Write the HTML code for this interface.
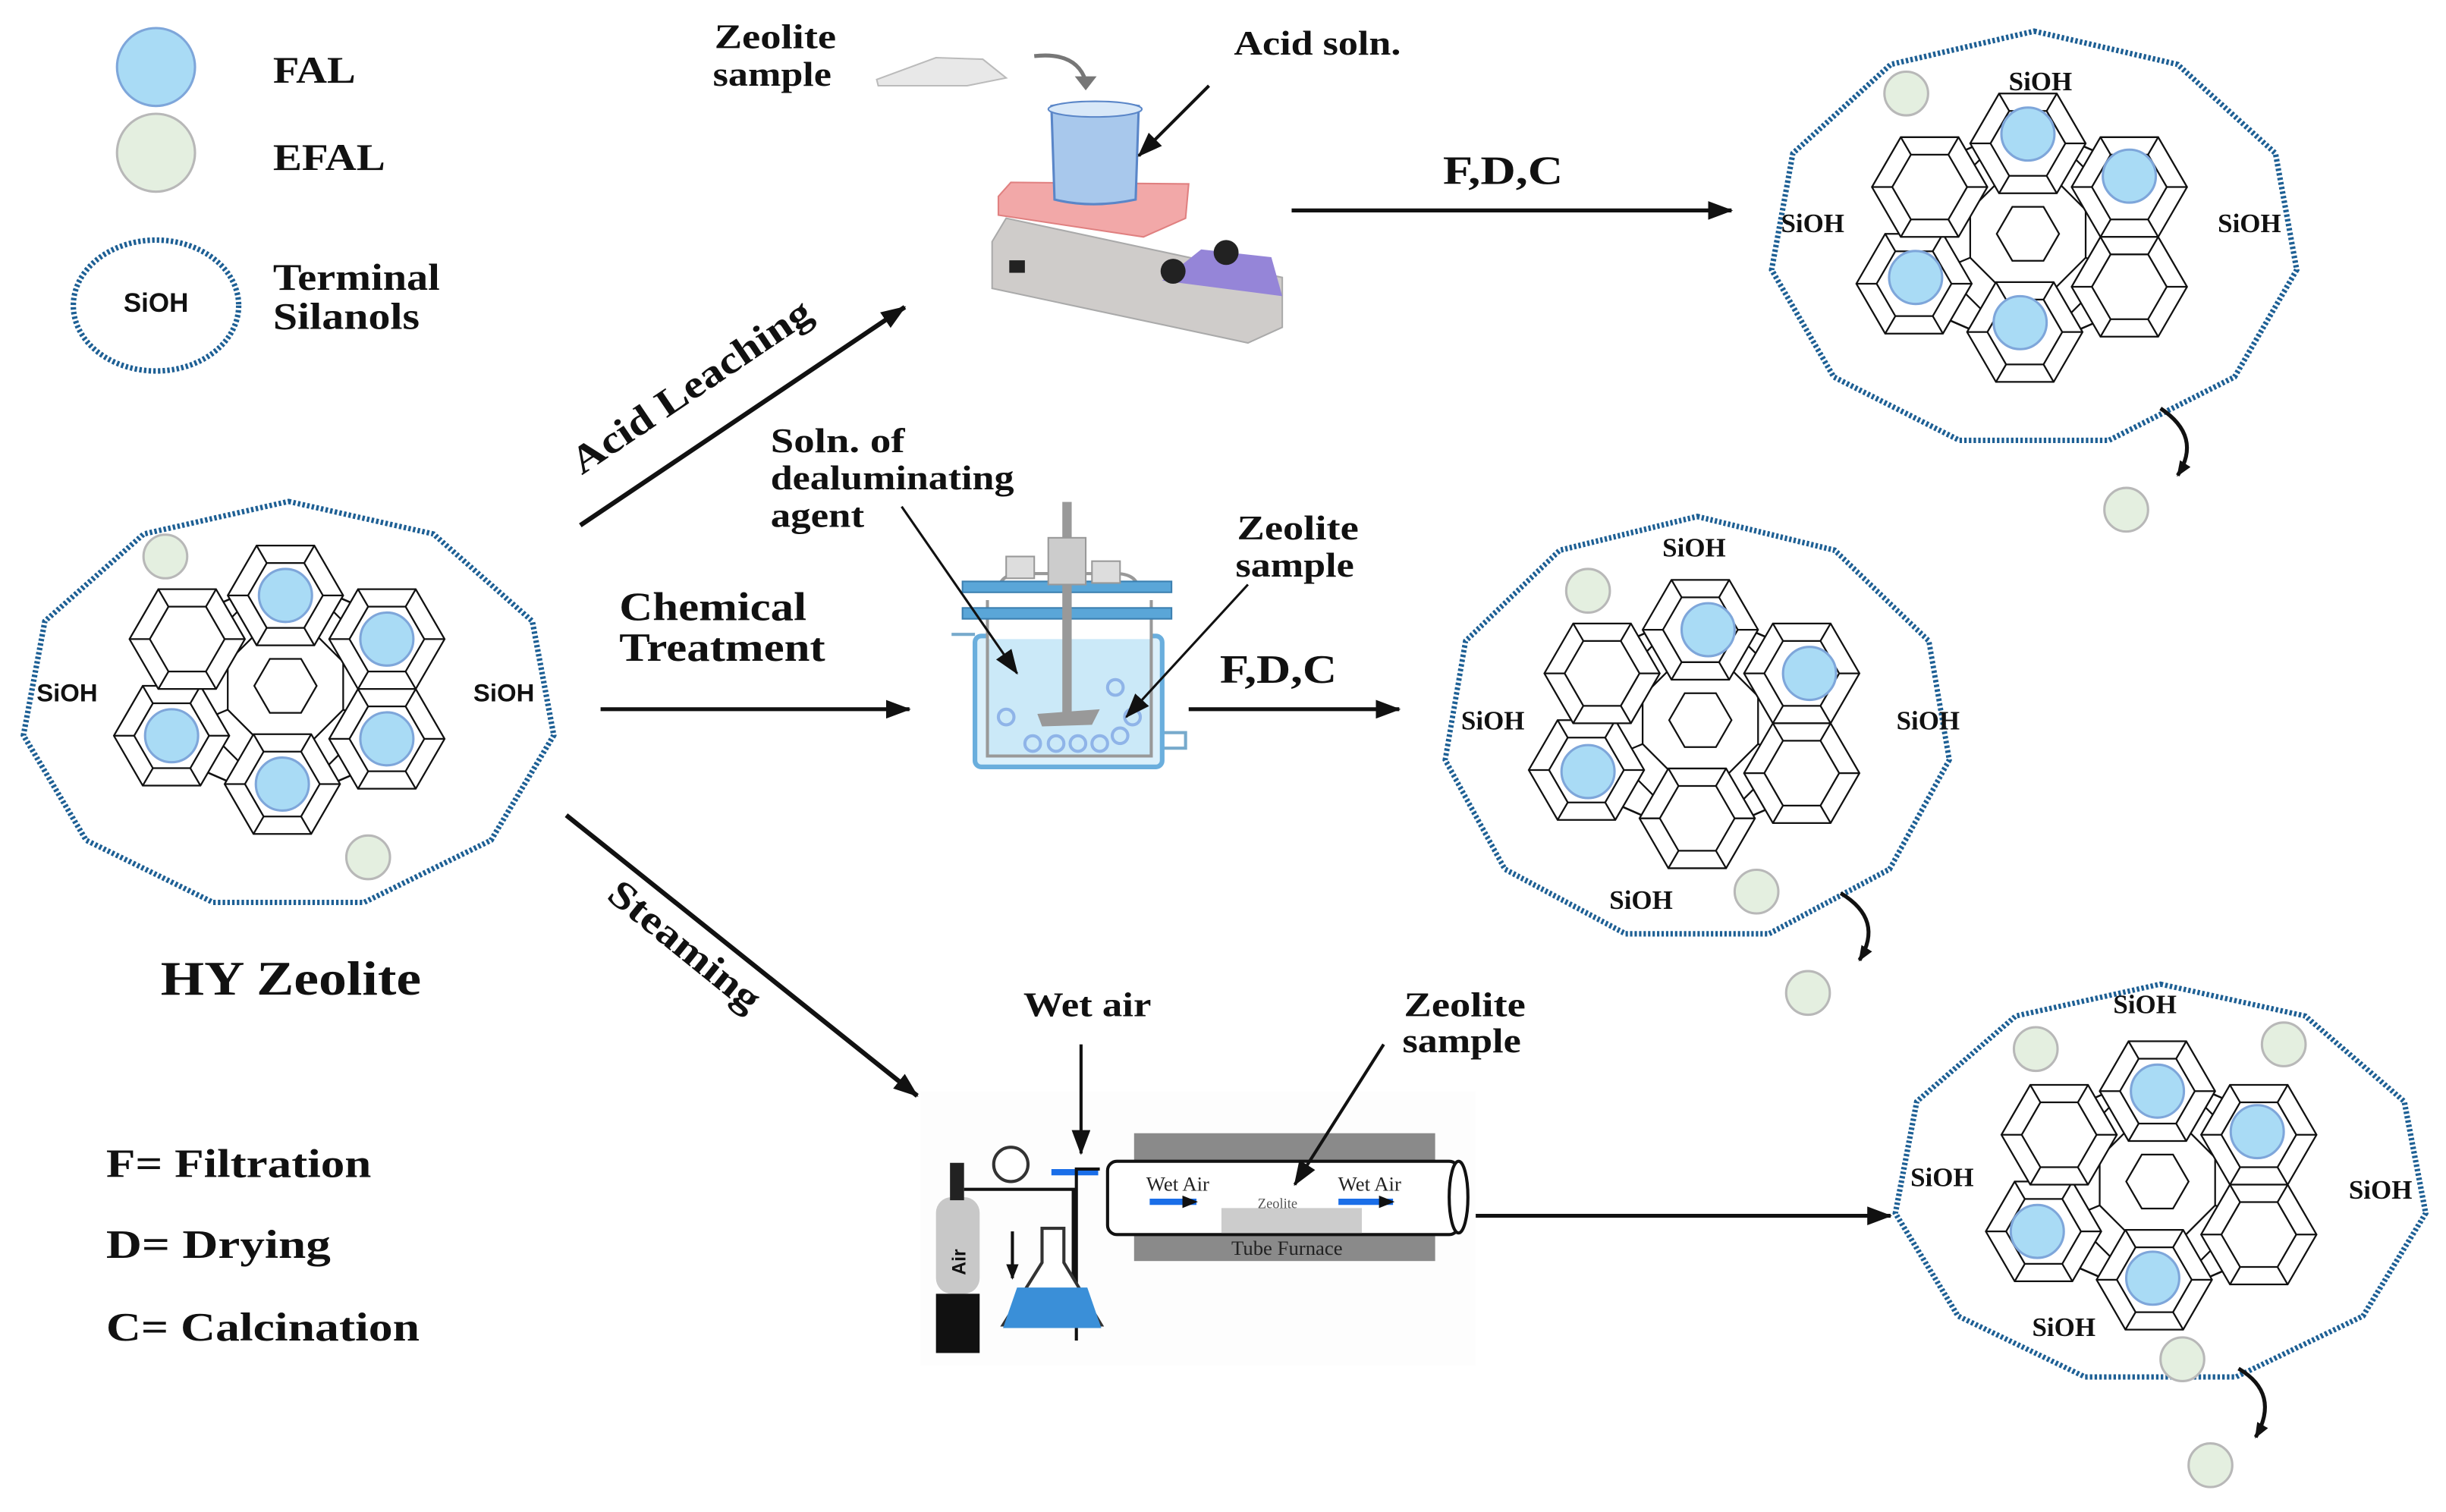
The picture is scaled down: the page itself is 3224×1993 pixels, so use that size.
<!DOCTYPE html>
<html><head><meta charset="utf-8"><style>
html,body{margin:0;padding:0;background:#fff}
svg{display:block}
.t{font-family:"Liberation Serif",serif;font-weight:bold;fill:#111}
.s{font-family:"Liberation Sans",sans-serif;font-weight:bold;fill:#111}
</style></head><body>
<svg width="3224" height="1993" viewBox="0 0 1568 970" preserveAspectRatio="none" xmlns="http://www.w3.org/2000/svg">
<defs>
<marker id="ah" markerWidth="10" markerHeight="8" refX="9" refY="4" orient="auto" markerUnits="userSpaceOnUse"><path d="M0,0 L10,4 L0,8 z" fill="#111"/></marker>
<marker id="ahb" markerWidth="16" markerHeight="12" refX="15" refY="6" orient="auto" markerUnits="userSpaceOnUse"><path d="M0,0 L16,6 L0,12 z" fill="#111"/></marker>
<polygon id="ring" points="0,-134 91.9,-112.7 154.7,-55.6 168.3,19.1 128.5,87.8 47.9,128.5 -47.9,128.5 -128.5,87.8 -168.3,19.1 -154.7,-55.6 -91.9,-112.7" fill="none" stroke="#1d5f94" stroke-width="3.5" stroke-dasharray="1.6 1.4"/>
<g id="hx">
<polygon points="37,0 18.5,32 -18.5,32 -37,0 -18.5,-32 18.5,-32" fill="#fff" stroke="#111" stroke-width="1.1"/>
<polygon points="24,0 12,20.8 -12,20.8 -24,0 -12,-20.8 12,-20.8" fill="none" stroke="#111" stroke-width="1.1"/>
<path d="M37,0L24,0M18.5,32L12,20.8M-18.5,32L-12,20.8M-37,0L-24,0M-18.5,-32L-12,-20.8M18.5,-32L12,-20.8" stroke="#111" stroke-width="1.1"/>
</g>
<g id="fw">
<g stroke="#111" stroke-width="26">
<path d="M0,-58L65,-30L65,34L-2,63L-73,32L-63,-30Z M0,0L0,-58M0,0L65,-30M0,0L65,34M0,0L-2,63M0,0L-73,32M0,0L-63,-30" fill="none"/>
</g>
<g stroke="#fff" stroke-width="23.5">
<path d="M0,-58L65,-30L65,34L-2,63L-73,32L-63,-30Z M0,0L0,-58M0,0L65,-30M0,0L65,34M0,0L-2,63M0,0L-73,32M0,0L-63,-30" fill="none"/>
</g>
<polygon points="55.4,23 23,55.4 -23,55.4 -55.4,23 -55.4,-23 -23,-55.4 23,-55.4 55.4,-23" fill="#fff" stroke="#111" stroke-width="1.1"/>
<polygon points="37,15.3 15.3,37 -15.3,37 -37,15.3 -37,-15.3 -15.3,-37 15.3,-37 37,-15.3" fill="none" stroke="#111" stroke-width="1.1"/>
<path d="M55.4,23L37,15.3M23,55.4L15.3,37M-23,55.4L-15.3,37M-55.4,23L-37,15.3M-55.4,-23L-37,-15.3M-23,-55.4L-15.3,-37M23,-55.4L15.3,-37M55.4,-23L37,-15.3" stroke="#111" stroke-width="1.1"/>
<polygon points="20,0 10,17.3 -10,17.3 -20,0 -10,-17.3 10,-17.3" fill="none" stroke="#111" stroke-width="1.1"/>
<use href="#hx" x="0" y="-58"/><use href="#hx" x="65" y="-30"/><use href="#hx" x="65" y="34"/>
<use href="#hx" x="-2" y="63"/><use href="#hx" x="-73" y="32"/><use href="#hx" x="-63" y="-30"/>
</g>
<circle id="fal" r="17" fill="#a9dbf5" stroke="#7ea6da" stroke-width="1.5"/>
<circle id="efal" r="14" fill="#e4efe0" stroke="#b8b8b8" stroke-width="1.5"/>
</defs>

<!-- Legend -->
<circle cx="100" cy="43" r="25" fill="#a9dbf5" stroke="#7ea6da" stroke-width="1.5"/>
<circle cx="100" cy="98" r="25" fill="#e4efe0" stroke="#b8b8b8" stroke-width="1.5"/>
<ellipse cx="100" cy="196" rx="53" ry="42" fill="none" stroke="#1d5f94" stroke-width="3.5" stroke-dasharray="1.6 1.4"/>
<text x="100" y="200" class="s" font-size="17" text-anchor="middle" font-weight="normal">SiOH</text>
<text x="175" y="53" class="t" font-size="24" textLength="53" lengthAdjust="spacingAndGlyphs">FAL</text>
<text x="175" y="109" class="t" font-size="24" textLength="72" lengthAdjust="spacingAndGlyphs">EFAL</text>
<text x="175" y="186" class="t" font-size="24" textLength="107" lengthAdjust="spacingAndGlyphs">Terminal</text>
<text x="175" y="211" class="t" font-size="24" textLength="94" lengthAdjust="spacingAndGlyphs">Silanols</text>

<!-- HY zeolite -->
<use href="#ring" transform="translate(185,453) scale(1.01,0.98)"/>
<use href="#fw" x="183" y="440"/>
<use href="#fal" x="183" y="382"/><use href="#fal" x="248" y="410"/><use href="#fal" x="110" y="472"/><use href="#fal" x="248" y="474"/><use href="#fal" x="181" y="503"/>
<use href="#efal" x="106" y="357"/><use href="#efal" x="236" y="550"/>
<text x="43" y="450" class="s" font-size="16" font-weight="normal" text-anchor="middle">SiOH</text>
<text x="323" y="450" class="s" font-size="16" font-weight="normal" text-anchor="middle">SiOH</text>
<text x="103" y="638" class="t" font-size="31" textLength="167" lengthAdjust="spacingAndGlyphs">HY Zeolite</text>

<text x="68" y="755" class="t" font-size="26" textLength="170" lengthAdjust="spacingAndGlyphs">F= Filtration</text>
<text x="68" y="807" class="t" font-size="26" textLength="144" lengthAdjust="spacingAndGlyphs">D= Drying</text>
<text x="68" y="860" class="t" font-size="26" textLength="201" lengthAdjust="spacingAndGlyphs">C= Calcination</text>

<!-- main arrows -->
<line x1="372" y1="337" x2="580" y2="197" stroke="#111" stroke-width="3" marker-end="url(#ahb)"/>
<text class="t" font-size="25" transform="translate(373,305) rotate(-34)" textLength="180" lengthAdjust="spacingAndGlyphs">Acid Leaching</text>
<line x1="385" y1="455" x2="583" y2="455" stroke="#111" stroke-width="2.5" marker-end="url(#ahb)"/>
<text x="397" y="398" class="t" font-size="26" textLength="120" lengthAdjust="spacingAndGlyphs">Chemical</text>
<text x="397" y="424" class="t" font-size="26" textLength="132" lengthAdjust="spacingAndGlyphs">Treatment</text>
<line x1="363" y1="523" x2="588" y2="703" stroke="#111" stroke-width="3" marker-end="url(#ahb)"/>
<text class="t" font-size="25" transform="translate(388,576) rotate(39)" textLength="118" lengthAdjust="spacingAndGlyphs">Steaming</text>

<!-- Acid leaching apparatus -->
<text x="458" y="31" class="t" font-size="22" textLength="78" lengthAdjust="spacingAndGlyphs">Zeolite</text>
<text x="457" y="55" class="t" font-size="22" textLength="76" lengthAdjust="spacingAndGlyphs">sample</text>
<polygon points="562,51 600,37 630,38 645,50 620,55 563,55" fill="#e8e8e8" stroke="#bbb"/>
<path d="M663,36 Q690,33 696,52" fill="none" stroke="#777" stroke-width="2.5"/>
<path d="M689,49 L703,49 L696,58 Z" fill="#777"/>
<text x="791" y="35" class="t" font-size="22" textLength="107" lengthAdjust="spacingAndGlyphs">Acid soln.</text>
<path d="M636,155 L645,140 L822,178 L822,210 L800,220 L636,185 Z" fill="#cfccca" stroke="#aaa"/>
<path d="M770,160 L815,165 L822,190 L745,180 Z" fill="#9585d8"/>
<circle cx="752" cy="174" r="8" fill="#222"/><circle cx="786" cy="162" r="8" fill="#222"/>
<rect x="647" y="167" width="10" height="8" fill="#222"/>
<polygon points="640,126 648,117 762,118 760,140 733,152 640,138" fill="#f2a8a8" stroke="#e08080"/>
<path d="M674,68 Q700,63 730,68 L728,128 Q700,134 676,128 Z" fill="#a8c8ec" stroke="#5a86c8" stroke-width="1.5"/>
<ellipse cx="702" cy="70" rx="30" ry="5" fill="#d8e8f8" stroke="#5a86c8"/>
<line x1="775" y1="55" x2="730" y2="100" stroke="#111" stroke-width="2" marker-end="url(#ahb)"/>

<!-- F,D,C top -->
<line x1="828" y1="135" x2="1110" y2="135" stroke="#111" stroke-width="2.5" marker-end="url(#ahb)"/>
<text x="925" y="118" class="t" font-size="26" textLength="77" lengthAdjust="spacingAndGlyphs">F,D,C</text>

<!-- top right zeolite -->
<use href="#ring" transform="translate(1304,154) scale(1.0,1.0)"/>
<use href="#fw" x="1300" y="150"/>
<use href="#fal" x="1300" y="86"/><use href="#fal" x="1365" y="113"/><use href="#fal" x="1228" y="178"/><use href="#fal" x="1295" y="207"/>
<use href="#efal" x="1222" y="60"/><use href="#efal" x="1363" y="327"/>
<text x="1308" y="58" class="t" font-size="17" font-weight="normal" text-anchor="middle">SiOH</text>
<text x="1162" y="149" class="t" font-size="17" font-weight="normal" text-anchor="middle">SiOH</text>
<text x="1442" y="149" class="t" font-size="17" font-weight="normal" text-anchor="middle">SiOH</text>
<path d="M1385,262 Q1412,280 1396,305" fill="none" stroke="#111" stroke-width="2.5" marker-end="url(#ah)"/>

<!-- chemical treatment apparatus -->
<text x="494" y="290" class="t" font-size="22" textLength="86" lengthAdjust="spacingAndGlyphs">Soln. of</text>
<text x="494" y="314" class="t" font-size="22" textLength="156" lengthAdjust="spacingAndGlyphs">dealuminating</text>
<text x="494" y="338" class="t" font-size="22" textLength="60" lengthAdjust="spacingAndGlyphs">agent</text>
<text x="793" y="346" class="t" font-size="22" textLength="78" lengthAdjust="spacingAndGlyphs">Zeolite</text>
<text x="792" y="370" class="t" font-size="22" textLength="76" lengthAdjust="spacingAndGlyphs">sample</text>
<path d="M610,407 L625,407 M745,470 L760,470 L760,480 L745,480" fill="none" stroke="#7ac" stroke-width="2"/>
<rect x="625" y="408" width="120" height="84" rx="4" fill="#dbf0fb" stroke="#6aaedd" stroke-width="3"/>
<path d="M633,385 L633,485 L738,485 L738,385" fill="#cbe9f8" stroke="#999" stroke-width="2"/>
<rect x="634" y="384" width="103" height="26" fill="#fff"/>
<path d="M640,380 Q640,368 655,368 L715,368 Q730,368 730,380" fill="none" stroke="#999" stroke-width="2"/>
<rect x="617" y="373" width="134" height="7" fill="#5aa6d8" stroke="#3b7fb0"/>
<rect x="617" y="390" width="134" height="7" fill="#5aa6d8" stroke="#3b7fb0"/>
<rect x="681" y="322" width="6" height="140" fill="#999"/>
<rect x="672" y="345" width="24" height="30" fill="#ccc" stroke="#999"/>
<rect x="645" y="357" width="18" height="14" fill="#ddd" stroke="#999"/>
<rect x="700" y="360" width="18" height="14" fill="#ddd" stroke="#999"/>
<path d="M665,458 L705,455 L700,465 L668,466 Z" fill="#999"/>
<g fill="none" stroke="#8fb4e8" stroke-width="2">
<circle cx="645" cy="460" r="5"/><circle cx="715" cy="441" r="5"/><circle cx="662" cy="477" r="5"/><circle cx="677" cy="477" r="5"/><circle cx="691" cy="477" r="5"/><circle cx="705" cy="477" r="5"/><circle cx="718" cy="472" r="5"/><circle cx="726" cy="460" r="5"/>
</g>
<line x1="578" y1="325" x2="652" y2="432" stroke="#111" stroke-width="1.5" marker-end="url(#ahb)"/>
<line x1="800" y1="375" x2="722" y2="460" stroke="#111" stroke-width="1.5" marker-end="url(#ahb)"/>

<line x1="762" y1="455" x2="897" y2="455" stroke="#111" stroke-width="2.5" marker-end="url(#ahb)"/>
<text x="782" y="438" class="t" font-size="26" textLength="75" lengthAdjust="spacingAndGlyphs">F,D,C</text>

<!-- middle zeolite -->
<use href="#ring" transform="translate(1088,468) scale(0.96,1.02)"/>
<use href="#fw" x="1090" y="462"/>
<use href="#fal" x="1095" y="404"/><use href="#fal" x="1160" y="432"/><use href="#fal" x="1018" y="495"/>
<use href="#efal" x="1018" y="379"/><use href="#efal" x="1126" y="572"/><use href="#efal" x="1159" y="637"/>
<text x="1086" y="357" class="t" font-size="17" font-weight="normal" text-anchor="middle">SiOH</text>
<text x="957" y="468" class="t" font-size="17" font-weight="normal" text-anchor="middle">SiOH</text>
<text x="1236" y="468" class="t" font-size="17" font-weight="normal" text-anchor="middle">SiOH</text>
<text x="1052" y="583" class="t" font-size="17" font-weight="normal" text-anchor="middle">SiOH</text>
<path d="M1180,573 Q1208,590 1192,616" fill="none" stroke="#111" stroke-width="2.5" marker-end="url(#ah)"/>

<!-- steaming apparatus -->
<rect x="590" y="700" width="356" height="176" fill="#fdfdfd"/>
<text x="656" y="652" class="t" font-size="22" textLength="82" lengthAdjust="spacingAndGlyphs">Wet air</text>
<text x="900" y="652" class="t" font-size="22" textLength="78" lengthAdjust="spacingAndGlyphs">Zeolite</text>
<text x="899" y="675" class="t" font-size="22" textLength="76" lengthAdjust="spacingAndGlyphs">sample</text>
<rect x="727" y="727" width="193" height="82" fill="#8a8a8a"/>
<rect x="710" y="745" width="225" height="47" rx="6" fill="#fff" stroke="#111" stroke-width="2"/>
<ellipse cx="935" cy="768" rx="6" ry="23" fill="#fff" stroke="#111" stroke-width="2"/>
<text x="825" y="805" font-family="Liberation Serif,serif" font-size="13" fill="#222" text-anchor="middle">Tube Furnace</text>
<rect x="783" y="775" width="90" height="16" fill="#ccc"/>
<text x="819" y="775" font-family="Liberation Serif,serif" font-size="9" fill="#555" text-anchor="middle">Zeolite</text>
<text x="755" y="764" font-family="Liberation Serif,serif" font-size="13" fill="#222" text-anchor="middle">Wet Air</text>
<text x="878" y="764" font-family="Liberation Serif,serif" font-size="13" fill="#222" text-anchor="middle">Wet Air</text>
<path d="M737,771 h30" stroke="#1a6ee8" stroke-width="4" marker-end="url(#ah)"/>
<path d="M858,771 h35" stroke="#1a6ee8" stroke-width="4" marker-end="url(#ah)"/>
<path d="M674,752 h30" stroke="#1a6ee8" stroke-width="4"/>
<line x1="693" y1="670" x2="693" y2="740" stroke="#111" stroke-width="2" marker-end="url(#ahb)"/>
<line x1="887" y1="670" x2="830" y2="760" stroke="#111" stroke-width="2" marker-end="url(#ahb)"/>
<rect x="600" y="768" width="28" height="62" rx="10" fill="#c8c8c8"/>
<rect x="600" y="830" width="28" height="38" fill="#111"/>
<rect x="609" y="746" width="9" height="24" fill="#222"/>
<text class="s" font-size="12" font-weight="normal" fill="#444" transform="translate(619,818) rotate(-90)">Air</text>
<circle cx="648" cy="747" r="11" fill="#fff" stroke="#333" stroke-width="2"/>
<path d="M618,763 H688 V842 M705,750 H690 V860" fill="none" stroke="#111" stroke-width="2"/>
<path d="M668,788 L668,810 L643,850 L706,850 L682,810 L682,788 Z" fill="#fff" stroke="#333" stroke-width="2"/>
<path d="M652,826 L697,826 L706,852 L643,852 Z" fill="#3a8fd8"/>
<line x1="649" y1="790" x2="649" y2="820" stroke="#111" stroke-width="2" marker-end="url(#ah)"/>

<line x1="946" y1="780" x2="1212" y2="780" stroke="#111" stroke-width="2.5" marker-end="url(#ahb)"/>

<!-- bottom right zeolite -->
<use href="#ring" transform="translate(1385,760) scale(1.01,0.96)"/>
<use href="#fw" x="1383" y="758"/>
<use href="#fal" x="1383" y="700"/><use href="#fal" x="1447" y="726"/><use href="#fal" x="1306" y="790"/><use href="#fal" x="1380" y="820"/>
<use href="#efal" x="1305" y="673"/><use href="#efal" x="1464" y="670"/><use href="#efal" x="1399" y="872"/><use href="#efal" x="1417" y="940"/>
<text x="1375" y="650" class="t" font-size="17" font-weight="normal" text-anchor="middle">SiOH</text>
<text x="1245" y="761" class="t" font-size="17" font-weight="normal" text-anchor="middle">SiOH</text>
<text x="1526" y="769" class="t" font-size="17" font-weight="normal" text-anchor="middle">SiOH</text>
<text x="1323" y="857" class="t" font-size="17" font-weight="normal" text-anchor="middle">SiOH</text>
<path d="M1435,878 Q1462,894 1446,922" fill="none" stroke="#111" stroke-width="2.5" marker-end="url(#ah)"/>
</svg>
</body></html>
